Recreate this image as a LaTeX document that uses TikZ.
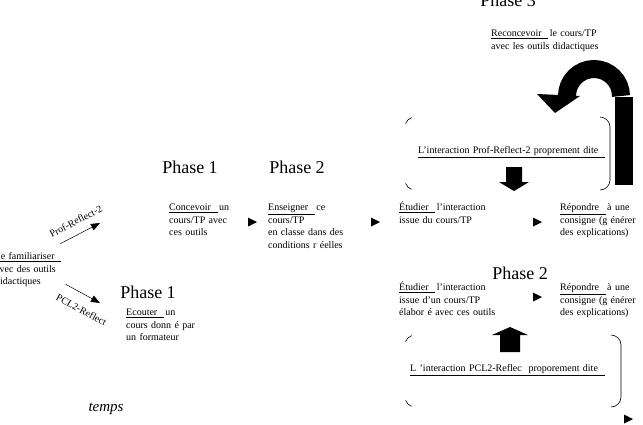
\documentclass[tikz,border=0pt]{standalone}
\usepackage{fontspec}
\setmainfont{Liberation Serif}
\usetikzlibrary{arrows.meta}
\tikzset{
  txt/.style={anchor=base west, inner sep=0pt, text width=#1, align=left,
    font=\fontsize{10}{12.5}\selectfont},
  txt/.default=100pt,
  phase/.style={inner sep=0pt, font=\fontsize{18}{20}\selectfont},
  fleche/.style={-{Triangle[length=9pt,width=7pt]}, line width=0.5pt},
  etiq/.style={inner sep=0pt, sloped, font=\fontsize{10}{12}\selectfont},
  coin/.style={line width=0.6pt},
  pointe/.pic={\fill (-4,4.5) -- (5,0) -- (-4,-4.5) -- cycle;}
}
\newcommand\souligne[1]{\underline{#1\ \ }\kern1.5pt}
\begin{document}
\begin{tikzpicture}[x=1pt,y=1pt]
\useasboundingbox (0,0) rectangle (643,-424);
\node[phase, anchor=base] (ph3) at (508,-6) {Phase 3};
\node[txt=130pt] (recon) at (491,-36.5) {\souligne{Reconcevoir}le cours/TP\\avec les outils didactiques};
\fill (615,-97) rectangle (633,-185);
\draw[line width=18pt] (621,-96) arc[start angle=0, end angle=180, radius=27];
\fill (537,-94) -- (580,-96) -- (555,-113) -- cycle;
\draw[coin] (411.6,-117.6) arc[start angle=110, end angle=160, radius=10];
\draw[coin] (405.6,-183.4) arc[start angle=200, end angle=250, radius=10];
\draw[coin] (600,-117) arc[start angle=90, end angle=0, radius=10] -- (610,-180)
  arc[start angle=0, end angle=-90, radius=10];
\node[txt=190pt] (interProf) at (418,-153.5) {\underline{L’interaction Prof-Reflect-2 proprement dite~~}};
\fill (506,-167) -- (522,-167) -- (522,-182) -- (529,-182) -- (514,-191) -- (499,-182) -- (506,-182) -- cycle;
\node[phase] (ph1a) at (190,-167) {Phase 1};
\node[phase] (ph2a) at (297,-167) {Phase 2};
\node[txt=70pt] (concev) at (169,-210.5) {\souligne{Concevoir}un\\cours/TP avec\\ces outils};
\node[txt=95pt] (enseig) at (268,-210.5) {\souligne{Enseigner}ce\\cours/TP\\en classe dans des\\conditions r éelles};
\node[txt=95pt] (etudA) at (399,-210.5) {\souligne{Étudier}l’interaction\\issue du cours/TP};
\node[txt=80pt] (repA) at (560,-210.5) {\souligne{Répondre}à une\\consigne (g énérer\\des explications)};
\node[txt=64pt] (famil) at (-5,-259.5) {\souligne{Se familiariser}\\avec des outils\\didactiques};
\coordinate (versProf) at (100,-223);
\coordinate (versPCL) at (100,-303);
\draw[fleche] ([shift={(1,8.6)}]famil.north east) -- node[etiq, pos=0.54, above=9pt] (lProf) {Prof-Reflect-2} (versProf);
\draw[fleche] ([shift={(6,2.7)}]famil.south east) -- node[etiq, pos=0.67, below=11pt] (lPCL) {PCL2-Reflect} (versPCL);
\node[phase] (ph1b) at (148,-292) {Phase 1};
\node[txt=80pt] (ecout) at (126,-315.5) {\souligne{Ecouter}un\\cours donn é par\\un formateur};
\node[phase] (ph2b) at (520,-273) {Phase 2};
\node[txt=110pt] (etudB) at (399,-290.5) {\souligne{Étudier}l’interaction\\issue d’un cours/TP\\élabor é avec ces outils};
\node[txt=80pt] (repB) at (560,-290.5) {\souligne{Répondre}à une\\consigne (g énérer\\des explications)};
\fill (500,-352) -- (520,-352) -- (520,-335) -- (528,-335) -- (510,-327) -- (492,-335) -- (500,-335) -- cycle;
\draw[coin] (411.6,-335.6) arc[start angle=110, end angle=160, radius=10];
\draw[coin] (405.6,-400.4) arc[start angle=200, end angle=250, radius=10];
\draw[coin] (611,-335) arc[start angle=90, end angle=0, radius=10] -- (621,-397)
  arc[start angle=0, end angle=-90, radius=10];
\node[txt=200pt] (interPCL) at (410,-371.5) {\underline{L ’interaction PCL2-Reflec\ \ proporement dite~~}};
\foreach \px/\py in {252/222, 375/222, 537/222, 537/297, 628/419}
  \pic at (\px,-\py) {pointe};
\node[inner sep=0pt, font=\fontsize{15}{17}\selectfont\itshape] (temps) at (106,-409) {temps};
\end{tikzpicture}
\end{document}
